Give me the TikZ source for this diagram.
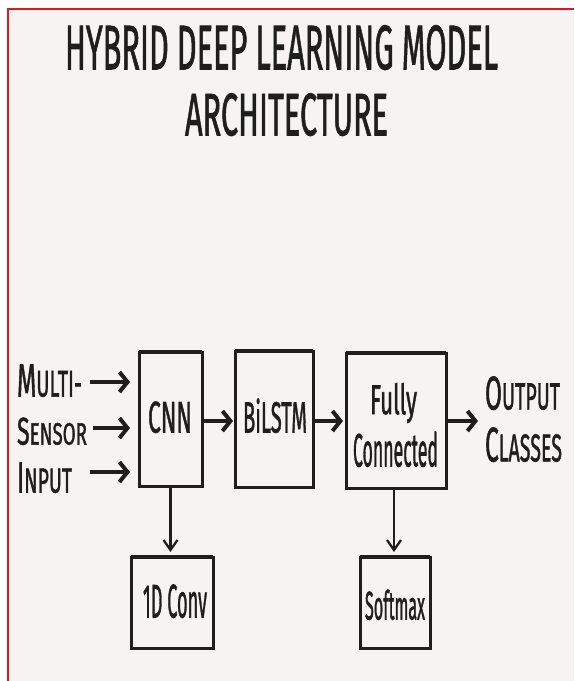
\documentclass[tikz,border=0pt]{standalone}
\usepackage{fontspec}
\usepackage{graphicx}
\setmainfont[FakeBold=1.6]{Fira Sans}
\usetikzlibrary{arrows.meta}
\definecolor{ink}{HTML}{1E1E1E}
\definecolor{paper}{HTML}{F5F4F2}
\definecolor{frame}{HTML}{E8141B}
\newcommand\fitw[3]{\resizebox{#1pt}{#2pt}{#3}}
\newcommand\fitt[3]{\resizebox*{#1pt}{#2pt}{#3}}
\newcommand\capsk[2]{{\fontsize{20}{20}\selectfont #1}{\fontsize{16}{16}\selectfont #2}}
\begin{document}
\begin{tikzpicture}[x=1pt,y=-1pt,
  lbl/.style={inner sep=0pt, outer sep=0pt, anchor=south west, text=ink},
  blk/.style={draw=ink, line width=3pt, inner sep=0pt, outer sep=0pt},
  harr/.style={draw=ink, line width=4pt, -{Straight Barb[length=8pt,width=20pt]}},
  varr/.style={draw=ink, line width=2.3pt, -{Straight Barb[length=10pt,width=14pt]}}]
\useasboundingbox (0,0) rectangle (574,681);
\fill[white] (0,0) rectangle (574,681);
\fill[paper] (8,9) rectangle (574,681);
\draw[frame, line width=2.5pt] (8,681) -- (8,9) -- (574,9);

% title
\node[lbl] (title1) at (65,70) {\fitw{433}{44}{HYBRID DEEP LEARNING MODEL}};
\node[lbl] (title2) at (185,136) {\fitw{203}{42}{ARCHITECTURE}};

% boxes
\node[blk, minimum width=63, minimum height=134] (cnn) at (170.5,419) {};
\node[blk, minimum width=78, minimum height=136] (bilstm) at (274,419) {};
\node[blk, minimum width=100, minimum height=135] (fc) at (396,420.5) {};
\node[blk, minimum width=82, minimum height=91] (conv) at (172,602.5) {};
\node[blk, minimum width=70, minimum height=91] (soft) at (395,602.5) {};
\foreach \n in {cnn,bilstm,fc,conv,soft}
  \draw[ink, line width=4pt] (\n.north west) -- (\n.north east);

% box labels
\node[lbl] (cnnlbl) at (148,433) {\fitw{44}{31}{CNN}};
\node[lbl] (bilstmlbl) at (243,433) {\fitw{64}{34}{BiLSTM}};
\node[lbl] (fullylbl) at (370,423) {\fitt{47}{40}{Fully}};
\node[lbl] (connlbl) at (353,467) {\fitw{85}{35}{Connected}};
\node[lbl] (convlbl) at (143,618) {\fitw{64}{33}{1D Conv}};
\node[lbl] (softlbl) at (365,620) {\fitw{60}{30}{Softmax}};

% side labels
\node[lbl] (multi) at (17,397) {\resizebox{65pt}{32pt}{\capsk{M}{ULTI-}}};
\node[lbl] (sensor) at (17,445) {\resizebox{70pt}{27pt}{\capsk{S}{ENSOR}}};
\node[lbl] (input) at (17,493) {\resizebox{55pt}{30pt}{\capsk{I}{NPUT}}};
\node[lbl] (output) at (485,410) {\resizebox{75pt}{33pt}{\capsk{O}{UTPUT}}};
\node[lbl] (classes) at (485,462) {\resizebox{77pt}{34pt}{\capsk{C}{LASSES}}};

% input arrows
\coordinate (i1) at (90,382);
\coordinate (i2) at (93,428);
\coordinate (i3) at (90,472);
\foreach \c in {i1,i2,i3}
  \draw[harr, shorten >=9pt] (\c) -- (\c -| cnn.west);

% chain arrows
\draw[harr, shorten >=2pt] ([yshift=-2pt]cnn.east) -- ([yshift=-2pt]bilstm.west);
\draw[harr, shorten >=3pt] ([yshift=-2pt]bilstm.east) -- ([yshift=-0.5pt]fc.west);
\coordinate (outp) at (478,421);
\draw[harr] (fc.east |- outp) -- (outp);

% down arrows
\draw[varr, shorten >=5pt] (cnn.south) -- (cnn.south |- conv.north);
\draw[varr, shorten >=5pt] ([xshift=-1pt]soft.north |- fc.south) -- ([xshift=-1pt]soft.north);
\end{tikzpicture}
\end{document}
